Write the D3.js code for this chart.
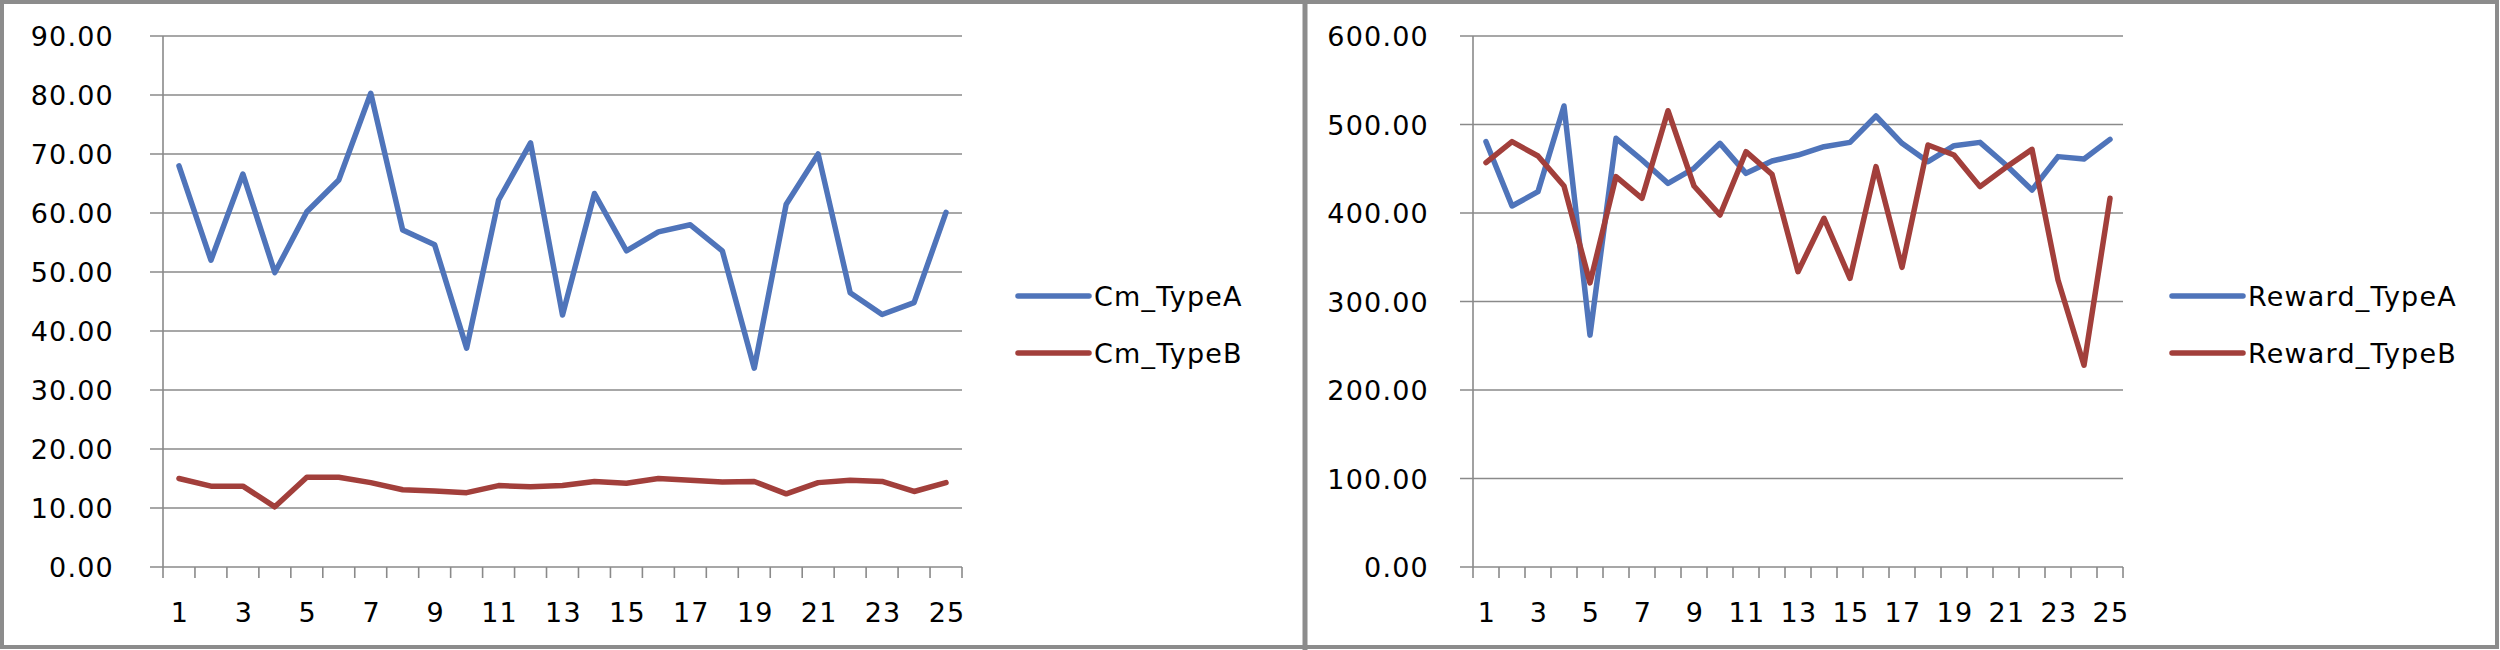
<!DOCTYPE html>
<html>
<head>
<meta charset="utf-8">
<script src="https://cdn.jsdelivr.net/npm/d3@7"></script>
<style>
  body { margin: 0; background: #fff; }
  svg text { font-family: "DejaVu Sans", sans-serif; font-size: 27px; letter-spacing: 1.2px; fill: #000; }
</style>
</head>
<body>
<svg id="charts" width="2500" height="650"></svg>
<script>
// categories 1..25
const categories = d3.range(1, 26);
const xTickLabels = categories.filter(d => d % 2 === 1);

// left chart
const cmTypeA = [68.0, 52.0, 66.6, 49.9, 60.2, 65.6, 80.3, 57.1, 54.6, 37.1, 62.2, 71.9, 42.7,
                 63.3, 53.6, 56.8, 58.0, 53.6, 33.7, 61.5, 70.0, 46.5, 42.8, 44.8, 60.1];
const cmTypeB = [15.0, 13.7, 13.7, 10.2, 15.2, 15.2, 14.3, 13.1, 12.9, 12.6, 13.8, 13.6, 13.8,
                 14.5, 14.2, 15.0, 14.7, 14.4, 14.5, 12.4, 14.3, 14.7, 14.5, 12.8, 14.3];
const cmTicks = [0, 10, 20, 30, 40, 50, 60, 70, 80, 90];

// right chart
const rewardTypeA = [480.6, 407.9, 424.1, 520.9, 262.0, 484.4, 459.9, 433.5, 450.5, 478.7, 444.8, 458.8, 465.5,
                     474.9, 479.8, 509.6, 478.7, 458.0, 476.1, 479.8, 454.2, 426.0, 463.7, 461.0, 483.2];
const rewardTypeB = [456.9, 480.6, 464.4, 430.5, 321.0, 441.1, 416.6, 515.6, 430.5, 397.7, 469.3, 443.7, 333.7,
                     394.0, 326.2, 452.4, 338.6, 476.8, 465.5, 429.8, 451.6, 471.9, 324.3, 228.0, 416.6];
const rewardTicks = [0, 100, 200, 300, 400, 500, 600];

const colorA = "#4f74ba";
const colorB = "#a23f3b";
const gridColor = "#8a8a8a";

const svg = d3.select("#charts");

function drawPanel(opts) {
    const g = svg.append("g");
    const top = 36, bottom = 567;

    const x = d3.scaleBand().domain(categories).range([opts.left, opts.right]);
    const y = d3.scaleLinear().domain([0, d3.max(opts.ticks)]).range([bottom, top]);

    // horizontal gridlines (with the little tick left of the axis)
    g.append("g").selectAll("line")
        .data(opts.ticks)
        .enter().append("line")
        .attr("x1", opts.left - 13)
        .attr("x2", opts.right)
        .attr("y1", d => y(d))
        .attr("y2", d => y(d))
        .attr("stroke", gridColor)
        .attr("stroke-width", 1.6);

    // y axis line
    g.append("line")
        .attr("x1", opts.left).attr("x2", opts.left)
        .attr("y1", top).attr("y2", bottom)
        .attr("stroke", gridColor)
        .attr("stroke-width", 1.6);

    // category tick marks at band edges
    const edges = categories.map(c => x(c)).concat([opts.right]);
    g.append("g").selectAll("line")
        .data(edges)
        .enter().append("line")
        .attr("x1", d => d).attr("x2", d => d)
        .attr("y1", bottom).attr("y2", bottom + 11)
        .attr("stroke", gridColor)
        .attr("stroke-width", 1.6);

    // y tick labels
    g.append("g").selectAll("text")
        .data(opts.ticks)
        .enter().append("text")
        .attr("x", opts.labelRight)
        .attr("y", d => y(d) + 10)
        .attr("text-anchor", "end")
        .text(d => d3.format(".2f")(d));

    // x tick labels
    g.append("g").selectAll("text")
        .data(xTickLabels)
        .enter().append("text")
        .attr("x", d => x(d) + x.bandwidth() / 2 + 1)
        .attr("y", 622)
        .attr("text-anchor", "middle")
        .text(d => d);

    const line = d3.line()
        .x((d, i) => x(categories[i]) + x.bandwidth() / 2)
        .y(d => y(d));

    opts.series.forEach(s => {
        g.append("path")
            .datum(s.values)
            .attr("d", line)
            .attr("fill", "none")
            .attr("stroke", s.color)
            .attr("stroke-width", 5.5)
            .attr("stroke-linejoin", "round")
            .attr("stroke-linecap", "round");
    });

    // legend
    const legend = g.append("g")
        .attr("transform", `translate(${opts.legendX}, 296)`);
    const item = legend.selectAll("g")
        .data(opts.series)
        .enter().append("g")
        .attr("transform", (d, i) => `translate(0, ${i * 57})`);
    item.append("line")
        .attr("x1", 0).attr("x2", 71)
        .attr("stroke", d => d.color)
        .attr("stroke-width", 5.5)
        .attr("stroke-linecap", "round");
    item.append("text")
        .attr("x", 76)
        .attr("y", 10)
        .text(d => d.name);
}

drawPanel({
    left: 163, right: 962, labelRight: 114, legendX: 1018,
    ticks: cmTicks,
    series: [
        {name: "Cm_TypeA", values: cmTypeA, color: colorA},
        {name: "Cm_TypeB", values: cmTypeB, color: colorB}
    ]
});

drawPanel({
    left: 1473, right: 2123, labelRight: 1429, legendX: 2172,
    ticks: rewardTicks,
    series: [
        {name: "Reward_TypeA", values: rewardTypeA, color: colorA},
        {name: "Reward_TypeB", values: rewardTypeB, color: colorB}
    ]
});

// outer frame and divider between the two charts
svg.append("rect")
    .attr("x", 2).attr("y", 2)
    .attr("width", 2495).attr("height", 645)
    .attr("fill", "none")
    .attr("stroke", "#8c8c8c")
    .attr("stroke-width", 4);
svg.append("line")
    .attr("x1", 1305).attr("x2", 1305)
    .attr("y1", 0).attr("y2", 650)
    .attr("stroke", "#8c8c8c")
    .attr("stroke-width", 5);
</script>
</body>
</html>
